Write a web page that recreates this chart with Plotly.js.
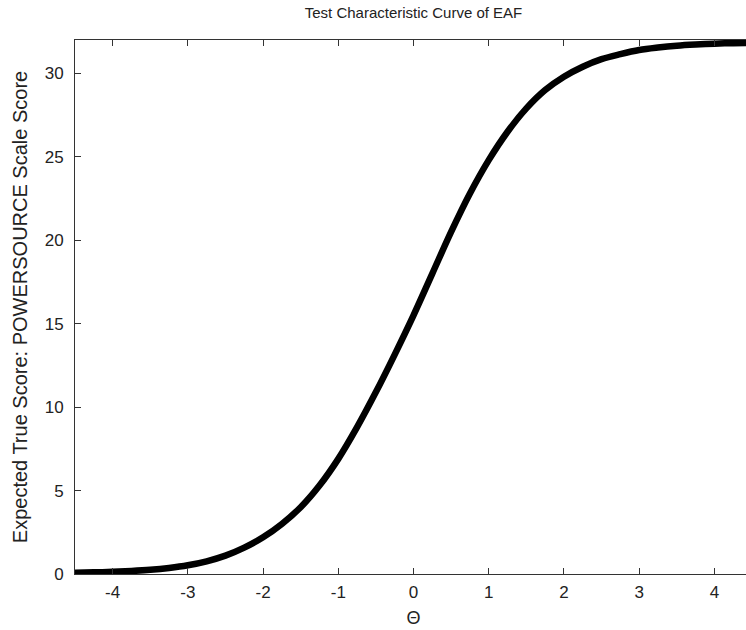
<!DOCTYPE html>
<html>
<head>
<meta charset="utf-8">
<script src="https://cdn.plot.ly/plotly-3.0.1.min.js"></script>
<style>
html,body{margin:0;padding:0;overflow:hidden;background:#fff;width:746px;height:630px;}
#chart{width:752px;height:630px;}
</style>
</head>
<body>
<div id="chart"></div>
<script>
var theta = [-4.5,-4.25,-4,-3.75,-3.5,-3.25,-3,-2.75,-2.5,-2.25,-2,-1.75,-1.5,-1.25,-1,-0.75,-0.5,-0.25,0,0.25,0.5,0.75,1,1.25,1.5,1.75,2,2.25,2.5,2.75,3,3.25,3.5,3.75,4,4.25,4.5];
var expectedScore = [0.08,0.1,0.13,0.18,0.25,0.36,0.52,0.76,1.1,1.58,2.2,3.0,4.0,5.3,6.9,8.8,10.9,13.15,15.5,18.0,20.5,22.8,24.8,26.5,27.9,29.0,29.8,30.4,30.85,31.15,31.4,31.55,31.66,31.73,31.78,31.81,31.83];
var xTicks = [-4,-3,-2,-1,0,1,2,3,4];
var yTicks = [0,5,10,15,20,25,30];

var fam = 'Liberation Sans, Arial, sans-serif';
var tickFont = {family: fam, size: 17, color: '#222'};

Plotly.newPlot('chart', [{
  x: theta, y: expectedScore, type: 'scatter', mode: 'lines',
  line: {color: '#000', width: 6.5, shape: 'spline'},
  hoverinfo: 'none'
}], {
  width: 752, height: 630,
  margin: {l: 75, r: 0, t: 40, b: 56},
  paper_bgcolor: '#fff', plot_bgcolor: '#fff',
  showlegend: false,
  font: tickFont,
  title: {text: 'Test Characteristic Curve of EAF', font: {family: fam, size: 15, color: '#222'}, xref: 'paper', x: 0.5, xanchor: 'center', y: 0.979, yanchor: 'middle'},
  xaxis: {
    range: [-4.5, 4.5], tickvals: xTicks, ticktext: xTicks.map(String),
    ticks: 'inside', ticklen: 6, tickwidth: 1, tickcolor: '#333',
    showline: true, linecolor: '#333', linewidth: 1, mirror: 'ticks',
    showgrid: false, zeroline: false,
    tickfont: tickFont,
    ticklabelstandoff: 3,
    title: {text: 'Θ', font: {family: fam, size: 18, color: '#222'}, standoff: 9}
  },
  yaxis: {
    range: [0, 32], tickvals: yTicks, ticktext: yTicks.map(String),
    ticks: 'inside', ticklen: 6, tickwidth: 1, tickcolor: '#333',
    showline: true, linecolor: '#333', linewidth: 1, mirror: 'ticks',
    showgrid: false, zeroline: false,
    tickfont: tickFont,
    ticklabelstandoff: 7,
    title: {text: 'Expected True Score: POWERSOURCE Scale Score', font: {family: fam, size: 20, color: '#222'}, standoff: 11}
  }
}, {staticPlot: true});
</script>
</body>
</html>
